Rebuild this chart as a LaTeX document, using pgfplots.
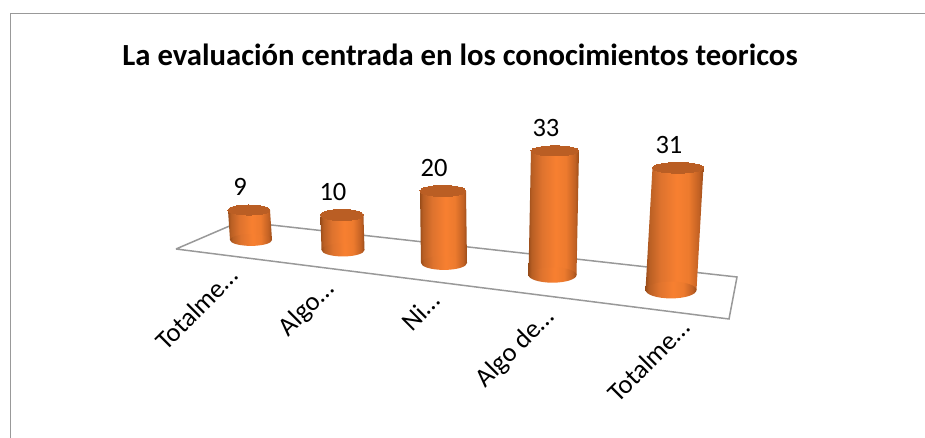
\documentclass[border=0pt]{standalone}
\usepackage{pgfplots}
\pgfplotsset{compat=1.18}
\usepackage{fontspec}
\setmainfont{Carlito}
\pgfdeclarehorizontalshading{cyl}{100bp}{
 rgb(0bp)=(0.60,0.30,0.10);
 rgb(25bp)=(0.60,0.30,0.10);
 rgb(28bp)=(0.72,0.37,0.14);
 rgb(38bp)=(0.87,0.45,0.18);
 rgb(52bp)=(0.97,0.50,0.19);
 rgb(62bp)=(0.93,0.48,0.18);
 rgb(71bp)=(0.76,0.38,0.14);
 rgb(75bp)=(0.60,0.30,0.10);
 rgb(100bp)=(0.60,0.30,0.10)}
\pgfdeclareplotmark{cylcap}{%
 \pgfpathellipse{\pgfpointorigin}{\pgfqpoint{\pgfplotmarksize}{0pt}}{\pgfqpoint{0pt}{\pgfplotmarksize}}%
 \pgfshadepath{cyl}{0}\pgfusepath{discard}}
\definecolor{captop}{rgb}{0.73,0.37,0.14}
\definecolor{floorline}{rgb}{0.60,0.60,0.60}
% #1 x, #2 value, #3 px per unit, #4 base y, #5 slant, #6 half width, #7 bottom yscale, #8 top yscale
\newcommand\cyl[8]{%
 \addplot[only marks,yshift=#4pt,mark=cylcap,mark size=#6pt,mark options={yscale=#7}] coordinates {(#1,0)};
 \addplot[ybar,bar width=#6*2pt,bar shift=0pt,draw=none,shade,shading=cyl,yshift=#4pt,xslant=#5,y filter/.expression={#3*y}] coordinates {(#1,#2)};
 \addplot[only marks,yshift=#4pt,xslant=#5,y filter/.expression={#3*y},mark=*,mark size=#6pt,
   mark options={draw=captop,line width=0pt,fill=captop,yscale=#8},
   point meta=rawy,nodes near coords,
   nodes near coords style={anchor=center,xshift=-9pt,yshift=23pt,font=\fontsize{26.5}{28}\selectfont,text=black,
     /pgf/number format/assume math mode=true}] coordinates {(#1,#2)};
}
\begin{document}
\begin{tikzpicture}[x=1pt,y=1pt]
\path[use as bounding box] (0,0) rectangle (925,438);
\begin{axis}[at={(0,0)},anchor=origin,x=1pt,y=1pt,xmin=0,xmax=925,ymin=0,ymax=438,
  axis lines=none,clip=false,scale only axis,
  title style={at={(axis cs:460,377)},anchor=center,font=\fontsize{30.7}{33}\selectfont\bfseries},
  title={La evaluación centrada en los conocimientos teoricos}]
\addplot[floorline,line width=1.5pt,fill=white,sharp plot] coordinates {(176,189) (240,216.5) (737,161) (729,119) (176,189)};
\cyl{251}{9}{3.33}{198}{-0.067}{21}{0.28}{0.24}
\cyl{343}{10}{3.5}{188}{-0.03}{21.5}{0.3}{0.26}
\cyl{444}{20}{3.6}{175}{-0.014}{23}{0.3}{0.24}
\cyl{552.5}{33}{3.76}{163}{0.02}{24}{0.32}{0.21}
\cyl{671}{31}{3.94}{148}{0.057}{25.5}{0.33}{0.21}
\node[rotate=45,anchor=east,font=\fontsize{26.5}{28}\selectfont] at (axis cs:236,169) {Totalme…};
\node[rotate=45,anchor=east,font=\fontsize{26.5}{28}\selectfont] at (axis cs:333,155) {Algo…};
\node[rotate=45,anchor=east,font=\fontsize{26.5}{28}\selectfont] at (axis cs:438,144) {Ni…};
\node[rotate=45,anchor=east,font=\fontsize{26.5}{28}\selectfont] at (axis cs:553,127) {Algo de…};
\node[rotate=45,anchor=east,font=\fontsize{26.5}{28}\selectfont] at (axis cs:688,117) {Totalme…};
\draw[floorline,line width=1.5pt] (axis cs:10.5,0) -- (axis cs:10.5,424.5) -- (axis cs:925,424.5);
\end{axis}
\end{tikzpicture}
\end{document}
